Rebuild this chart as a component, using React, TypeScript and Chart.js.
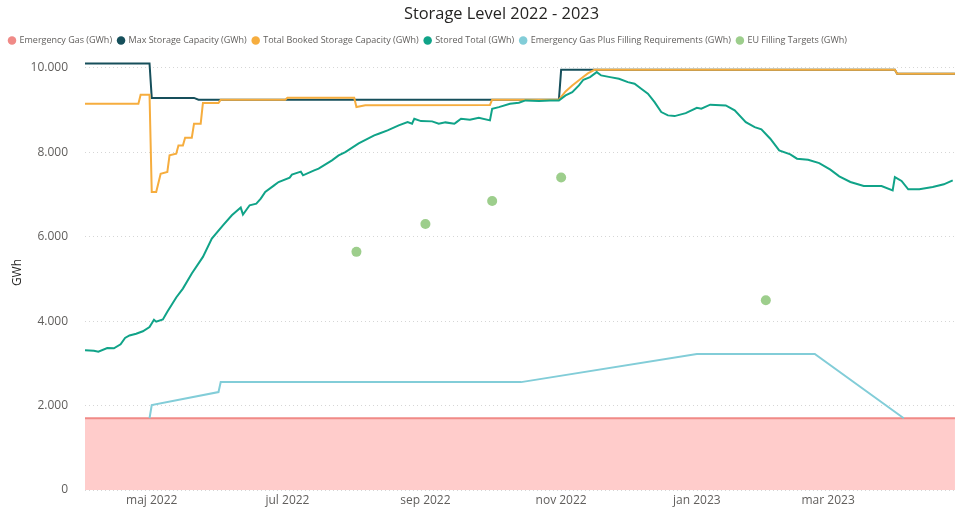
import React, { useEffect, useRef } from 'react';
import { Chart, registerables } from 'chart.js';

Chart.register(...registerables);

// ---------- DATA ----------
const tickDates = ['2022-05-01', '2022-07-01', '2022-09-01', '2022-11-01', '2023-01-01', '2023-03-01'];
const tickLabels = ['maj 2022', 'jul 2022', 'sep 2022', 'nov 2022', 'jan 2023', 'mar 2023'];
const yTicks = [0, 2000, 4000, 6000, 8000, 10000];

const axisStart = '2022-04-01';
const axisEnd = '2023-05-15';

const emergencyDates = ['2022-04-01', '2023-04-27'];
const emergencyValues = [1700, 1700];

const maxCapDates = ['2022-04-01', '2022-04-30', '2022-05-01', '2022-05-20', '2022-05-22', '2022-10-31', '2022-11-01', '2023-03-31', '2023-04-01', '2023-04-27'];
const maxCapValues = [10100, 10100, 9285, 9285, 9243, 9243, 9950, 9950, 9860, 9860];

const bookedDates = ['2022-04-01', '2022-04-25', '2022-04-26', '2022-04-30', '2022-05-01', '2022-05-03', '2022-05-05', '2022-05-08', '2022-05-09', '2022-05-12', '2022-05-13', '2022-05-15', '2022-05-16', '2022-05-19', '2022-05-20', '2022-05-23', '2022-05-24', '2022-05-31', '2022-06-01', '2022-06-30', '2022-07-01', '2022-07-31', '2022-08-01', '2022-08-05', '2022-09-30', '2022-10-01', '2022-10-31', '2022-11-03', '2022-11-06', '2022-11-10', '2022-11-13', '2022-11-16', '2023-03-31', '2023-04-01', '2023-04-27'];
const bookedValues = [9150, 9150, 9360, 9360, 7060, 7060, 7490, 7530, 7925, 7965, 8160, 8160, 8345, 8345, 8675, 8675, 9165, 9165, 9243, 9243, 9290, 9290, 9070, 9110, 9120, 9243, 9243, 9440, 9580, 9747, 9865, 9950, 9950, 9860, 9860];

const storedDates = ['2022-04-01', '2022-04-05', '2022-04-07', '2022-04-11', '2022-04-14', '2022-04-17', '2022-04-19', '2022-04-21', '2022-04-24', '2022-04-27', '2022-04-30', '2022-05-02', '2022-05-03', '2022-05-06', '2022-05-08', '2022-05-12', '2022-05-15', '2022-05-19', '2022-05-24', '2022-05-28', '2022-06-02', '2022-06-06', '2022-06-10', '2022-06-11', '2022-06-14', '2022-06-17', '2022-06-19', '2022-06-21', '2022-06-25', '2022-06-27', '2022-07-02', '2022-07-03', '2022-07-07', '2022-07-08', '2022-07-13', '2022-07-15', '2022-07-21', '2022-07-24', '2022-07-27', '2022-08-02', '2022-08-09', '2022-08-11', '2022-08-15', '2022-08-20', '2022-08-24', '2022-08-26', '2022-08-27', '2022-08-30', '2022-09-04', '2022-09-07', '2022-09-10', '2022-09-14', '2022-09-15', '2022-09-17', '2022-09-21', '2022-09-25', '2022-09-30', '2022-10-01', '2022-10-04', '2022-10-09', '2022-10-13', '2022-10-16', '2022-10-22', '2022-10-27', '2022-10-31', '2022-11-03', '2022-11-06', '2022-11-09', '2022-11-11', '2022-11-14', '2022-11-17', '2022-11-19', '2022-11-23', '2022-11-27', '2022-12-01', '2022-12-04', '2022-12-07', '2022-12-10', '2022-12-13', '2022-12-16', '2022-12-19', '2022-12-22', '2022-12-27', '2023-01-01', '2023-01-03', '2023-01-07', '2023-01-14', '2023-01-18', '2023-01-23', '2023-01-27', '2023-01-30', '2023-02-03', '2023-02-07', '2023-02-12', '2023-02-15', '2023-02-20', '2023-02-25', '2023-03-02', '2023-03-06', '2023-03-11', '2023-03-17', '2023-03-25', '2023-03-30', '2023-03-31', '2023-04-03', '2023-04-06', '2023-04-11', '2023-04-17', '2023-04-22', '2023-04-26'];
const storedValues = [3310, 3300, 3275, 3360, 3355, 3450, 3600, 3660, 3700, 3760, 3860, 4030, 3985, 4040, 4220, 4560, 4770, 5126, 5520, 5954, 6269, 6506, 6688, 6522, 6743, 6782, 6900, 7057, 7215, 7294, 7398, 7468, 7540, 7452, 7570, 7609, 7807, 7925, 8003, 8210, 8398, 8438, 8517, 8635, 8713, 8674, 8793, 8737, 8730, 8674, 8706, 8674, 8713, 8793, 8769, 8817, 8753, 9030, 9068, 9148, 9171, 9226, 9210, 9226, 9226, 9345, 9422, 9581, 9716, 9778, 9897, 9818, 9778, 9740, 9660, 9622, 9503, 9385, 9187, 8950, 8872, 8855, 8926, 9053, 9030, 9125, 9108, 8990, 8713, 8595, 8541, 8320, 8043, 7949, 7847, 7823, 7743, 7586, 7428, 7294, 7199, 7199, 7097, 7412, 7318, 7121, 7121, 7175, 7239, 7334];

const fillReqDates = ['2022-04-30', '2022-05-01', '2022-05-31', '2022-06-01', '2022-10-14', '2023-01-01', '2023-02-23', '2023-04-04'];
const fillReqValues = [1700, 2010, 2320, 2555, 2555, 3220, 3220, 1700];

const euTargetDates = ['2022-08-01', '2022-09-01', '2022-10-01', '2022-11-01', '2023-02-01'];
const euTargetValues = [5640, 6300, 6845, 7400, 4495];

// ---------- HELPERS ----------
const BASE = (() => {
  const [y, m, d] = axisStart.split('-').map(Number);
  return Date.UTC(y, m - 1, d);
})();
const toDay = (s: string) => {
  const [y, m, d] = s.split('-').map(Number);
  return Math.round((Date.UTC(y, m - 1, d) - BASE) / 86400000);
};
const pts = (dates: string[], values: number[]) => dates.map((d, i) => ({ x: toDay(d), y: values[i] }));
const fmt = (v: number) => String(Math.round(v)).replace(/\B(?=(\d{3})+(?!\d))/g, '.');

const FONT = "'Open Sans', 'DejaVu Sans', sans-serif";

export default function App() {
  const ref = useRef<HTMLCanvasElement | null>(null);

  useEffect(() => {
    if (!ref.current) return;
    const lineBase = { pointRadius: 0, pointHoverRadius: 0, borderWidth: 2, tension: 0, fill: false };
    const chart = new Chart(ref.current, {
      type: 'line',
      data: {
        datasets: [
          {
            ...lineBase,
            label: 'Emergency Gas (GWh)',
            data: pts(emergencyDates, emergencyValues),
            borderColor: '#F08A87',
            backgroundColor: '#FFCCCB',
            fill: 'origin',
            order: 5,
          },
          {
            ...lineBase,
            label: 'Max Storage Capacity (GWh)',
            data: pts(maxCapDates, maxCapValues),
            borderColor: '#164F5B',
            backgroundColor: '#164F5B',
            order: 4,
          },
          {
            ...lineBase,
            label: 'Total Booked Storage Capacity (GWh)',
            data: pts(bookedDates, bookedValues),
            borderColor: '#F6AD3E',
            backgroundColor: '#F6AD3E',
            order: 3,
          },
          {
            ...lineBase,
            label: 'Stored Total (GWh)',
            data: pts(storedDates, storedValues),
            borderColor: '#10A388',
            backgroundColor: '#10A388',
            order: 1,
          },
          {
            ...lineBase,
            label: 'Emergency Gas Plus Filling Requirements (GWh)',
            data: pts(fillReqDates, fillReqValues),
            borderColor: '#82CDD8',
            backgroundColor: '#82CDD8',
            order: 2,
          },
          {
            label: 'EU Filling Targets (GWh)',
            data: pts(euTargetDates, euTargetValues),
            showLine: false,
            pointRadius: 5,
            pointHoverRadius: 5,
            pointBorderWidth: 0,
            borderColor: '#9DCE8C',
            backgroundColor: '#9DCE8C',
            pointBackgroundColor: '#9DCE8C',
            order: 0,
          },
        ],
      },
      options: {
        animation: false,
        responsive: true,
        maintainAspectRatio: false,
        parsing: false as any,
        layout: { padding: { left: 3, right: 0, top: 0, bottom: 0 } },
        plugins: {
          tooltip: { enabled: false },
          title: {
            display: true,
            text: 'Storage Level 2022 - 2023',
            color: '#252423',
            font: { family: FONT, size: 16.4, weight: 'normal' },
            padding: { top: 4.5, bottom: 5.9 },
          },
          legend: {
            display: true,
            position: 'top',
            align: 'start',
            labels: {
              usePointStyle: true,
              pointStyle: 'circle',
              boxWidth: 6,
              boxHeight: 6,
              padding: 6,
              color: '#605E5C',
              font: { family: FONT, size: 9 },
              sort: (a: any, b: any) => a.datasetIndex - b.datasetIndex,
              generateLabels: (chart: any) => {
                const items = Chart.defaults.plugins.legend.labels.generateLabels(chart);
                return items.map((it: any) => ({ ...it, fillStyle: it.strokeStyle, lineWidth: 0 }));
              },
            },
          },
        },
        scales: {
          x: {
            type: 'linear',
            min: toDay(axisStart),
            max: toDay(axisEnd),
            grid: { display: false, drawTicks: false },
            border: { display: false },
            afterBuildTicks: (scale: any) => {
              scale.ticks = tickDates.map((d) => ({ value: toDay(d) }));
            },
            afterFit: (scale: any) => {
              scale.height = 21;
              scale.paddingLeft = 0;
              scale.paddingRight = 0;
            },
            ticks: {
              autoSkip: false,
              maxRotation: 0,
              padding: 3,
              color: '#605E5C',
              font: { family: FONT, size: 12 },
              callback: (value: any) => {
                const i = tickDates.findIndex((d) => toDay(d) === value);
                return i >= 0 ? tickLabels[i] : '';
              },
            },
          },
          y: {
            type: 'linear',
            min: 0,
            max: 10300,
            grid: { display: true, drawTicks: false, color: '#D6D6D6', lineWidth: 1 },
            border: { display: false, dash: [1, 3] },
            afterBuildTicks: (scale: any) => {
              scale.ticks = yTicks.map((v) => ({ value: v }));
            },
            afterFit: (scale: any) => {
              scale.width = 82;
              scale.paddingTop = 0;
              scale.paddingBottom = 0;
            },
            title: {
              display: true,
              text: 'GWh',
              color: '#252423',
              font: { family: FONT, size: 12 },
              padding: { top: 7, bottom: 0 },
            },
            ticks: {
              padding: 17,
              color: '#605E5C',
              font: { family: FONT, size: 12 },
              callback: (value: any) => fmt(Number(value)),
            },
          },
        },
      } as any,
    });
    return () => chart.destroy();
  }, []);

  return (
    <div style={{ position: 'fixed', left: 0, top: 0, width: 955, height: 511, overflow: 'hidden', background: '#ffffff' }}>
      <div style={{ position: 'relative', width: 1000, height: 511 }}>
        <canvas ref={ref} />
      </div>
    </div>
  );
}
